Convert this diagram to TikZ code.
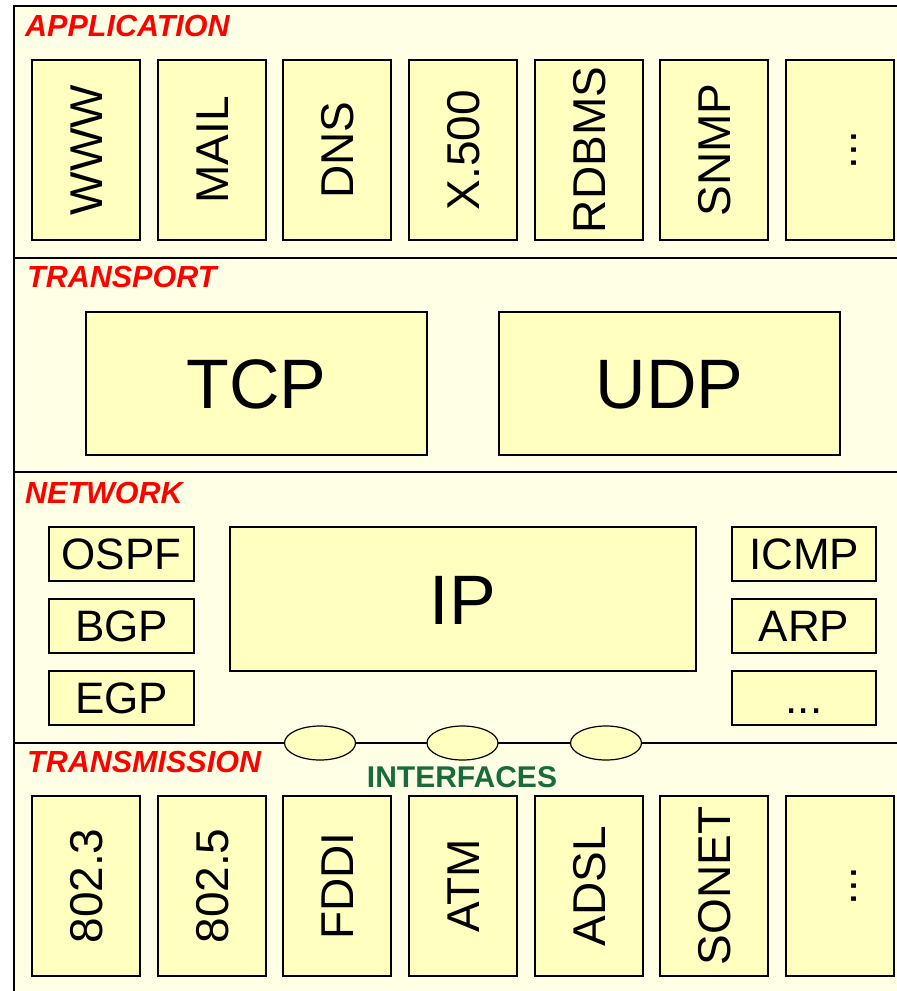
\documentclass[tikz,border=0pt]{standalone}
\usepackage{fontspec}
\setmainfont{Liberation Sans}
\usetikzlibrary{shapes.geometric}

\definecolor{bgcream}{RGB}{255,255,230}
\definecolor{boxfill}{RGB}{255,255,192}
\definecolor{labelred}{RGB}{255,0,0}
\definecolor{ifgreen}{RGB}{26,107,60}

\tikzset{
  layerline/.style={line width=1.8pt},
  layerlabel/.style={anchor=base west, inner sep=0pt, text=labelred,
    font=\fontsize{30.5}{33}\selectfont\bfseries\itshape},
  protobox/.style={draw, line width=1.8pt, fill=boxfill, inner sep=0pt},
  vproto/.style={protobox, rotate=90, minimum width=180pt, minimum height=108pt,
    font=\fontsize{46}{50}\selectfont, text height=33pt, text depth=0pt},
  smallproto/.style={protobox, minimum height=54pt,
    font=\fontsize{44}{48}\selectfont, text height=31.5pt, text depth=0pt},
  bigproto/.style={protobox, minimum height=143pt,
    font=\fontsize{70}{74}\selectfont, text height=50pt, text depth=0pt},
  iface/.style={draw, line width=1.2pt, fill=boxfill, ellipse,
    minimum width=71pt, minimum height=34pt, inner sep=0pt},
}

\begin{document}
\begin{tikzpicture}[x=1pt, y=-1pt]
  \useasboundingbox (0,0) rectangle (897,991);

  % stack frame and layer dividers
  \fill[bgcream] (14,6) rectangle (897,991);
  \draw[layerline] (897,6) -- (14,6) -- (14,991);
  \draw[layerline] (14,258) -- (897,258);
  \draw[layerline] (14,472) -- (897,472);
  \draw[layerline] (14,743) -- (897,743);

  % layer names
  \node[layerlabel] (lapp) at (25,36) {APPLICATION};
  \node[layerlabel] (ltra) at (27,287) {TRANSPORT};
  \node[layerlabel] (lnet) at (25,503) {NETWORK};
  \node[layerlabel] (ltrm) at (27,772) {TRANSMISSION};

  % application protocols
  \node[vproto] (www)   at (86,150)  {WWW};
  \node[vproto] (mail)  at (212,150) {MAIL};
  \node[vproto] (dns)   at (337,150) {DNS};
  \node[vproto] (x500)  at (463,150) {X.500};
  \node[vproto] (rdbms) at (589,150) {RDBMS};
  \node[vproto] (snmp)  at (714,150) {SNMP};
  \node[vproto] (appmore) at (840,150) {...};

  % transport protocols
  \node[bigproto, minimum width=341pt] (tcp) at (256.5,383.5) {TCP};
  \node[bigproto, minimum width=341pt] (udp) at (669.5,383.5) {UDP};

  % network protocols
  \node[smallproto, minimum width=145pt] (ospf) at (121.5,554) {OSPF};
  \node[smallproto, minimum width=145pt] (bgp)  at (121.5,626) {BGP};
  \node[smallproto, minimum width=145pt] (egp)  at (121.5,698) {EGP};
  \node[bigproto, minimum width=466pt, minimum height=144pt] (ip) at (463,599) {IP};
  \node[smallproto, minimum width=144pt] (icmp) at (804,554) {ICMP};
  \node[smallproto, minimum width=144pt] (arp)  at (804,626) {ARP};
  \node[smallproto, minimum width=144pt] (netmore) at (804,698) {...};

  % interfaces between network and transmission
  \node[iface] (if1) at (320,743) {};
  \node[iface] (if2) at (462.5,743) {};
  \node[iface] (if3) at (606,743) {};
  \node[anchor=base, inner sep=0pt, text=ifgreen,
    font=\fontsize{30}{32}\selectfont\bfseries] (iflabel) at (462,787) {INTERFACES};

  % transmission technologies
  \node[vproto] (e8023) at (86,886)  {802.3};
  \node[vproto] (e8025) at (212,886) {802.5};
  \node[vproto] (fddi)  at (337,886) {FDDI};
  \node[vproto] (atm)   at (463,886) {ATM};
  \node[vproto] (adsl)  at (589,886) {ADSL};
  \node[vproto] (sonet) at (714,886) {SONET};
  \node[vproto] (trmore) at (840,886) {...};
\end{tikzpicture}
\end{document}
